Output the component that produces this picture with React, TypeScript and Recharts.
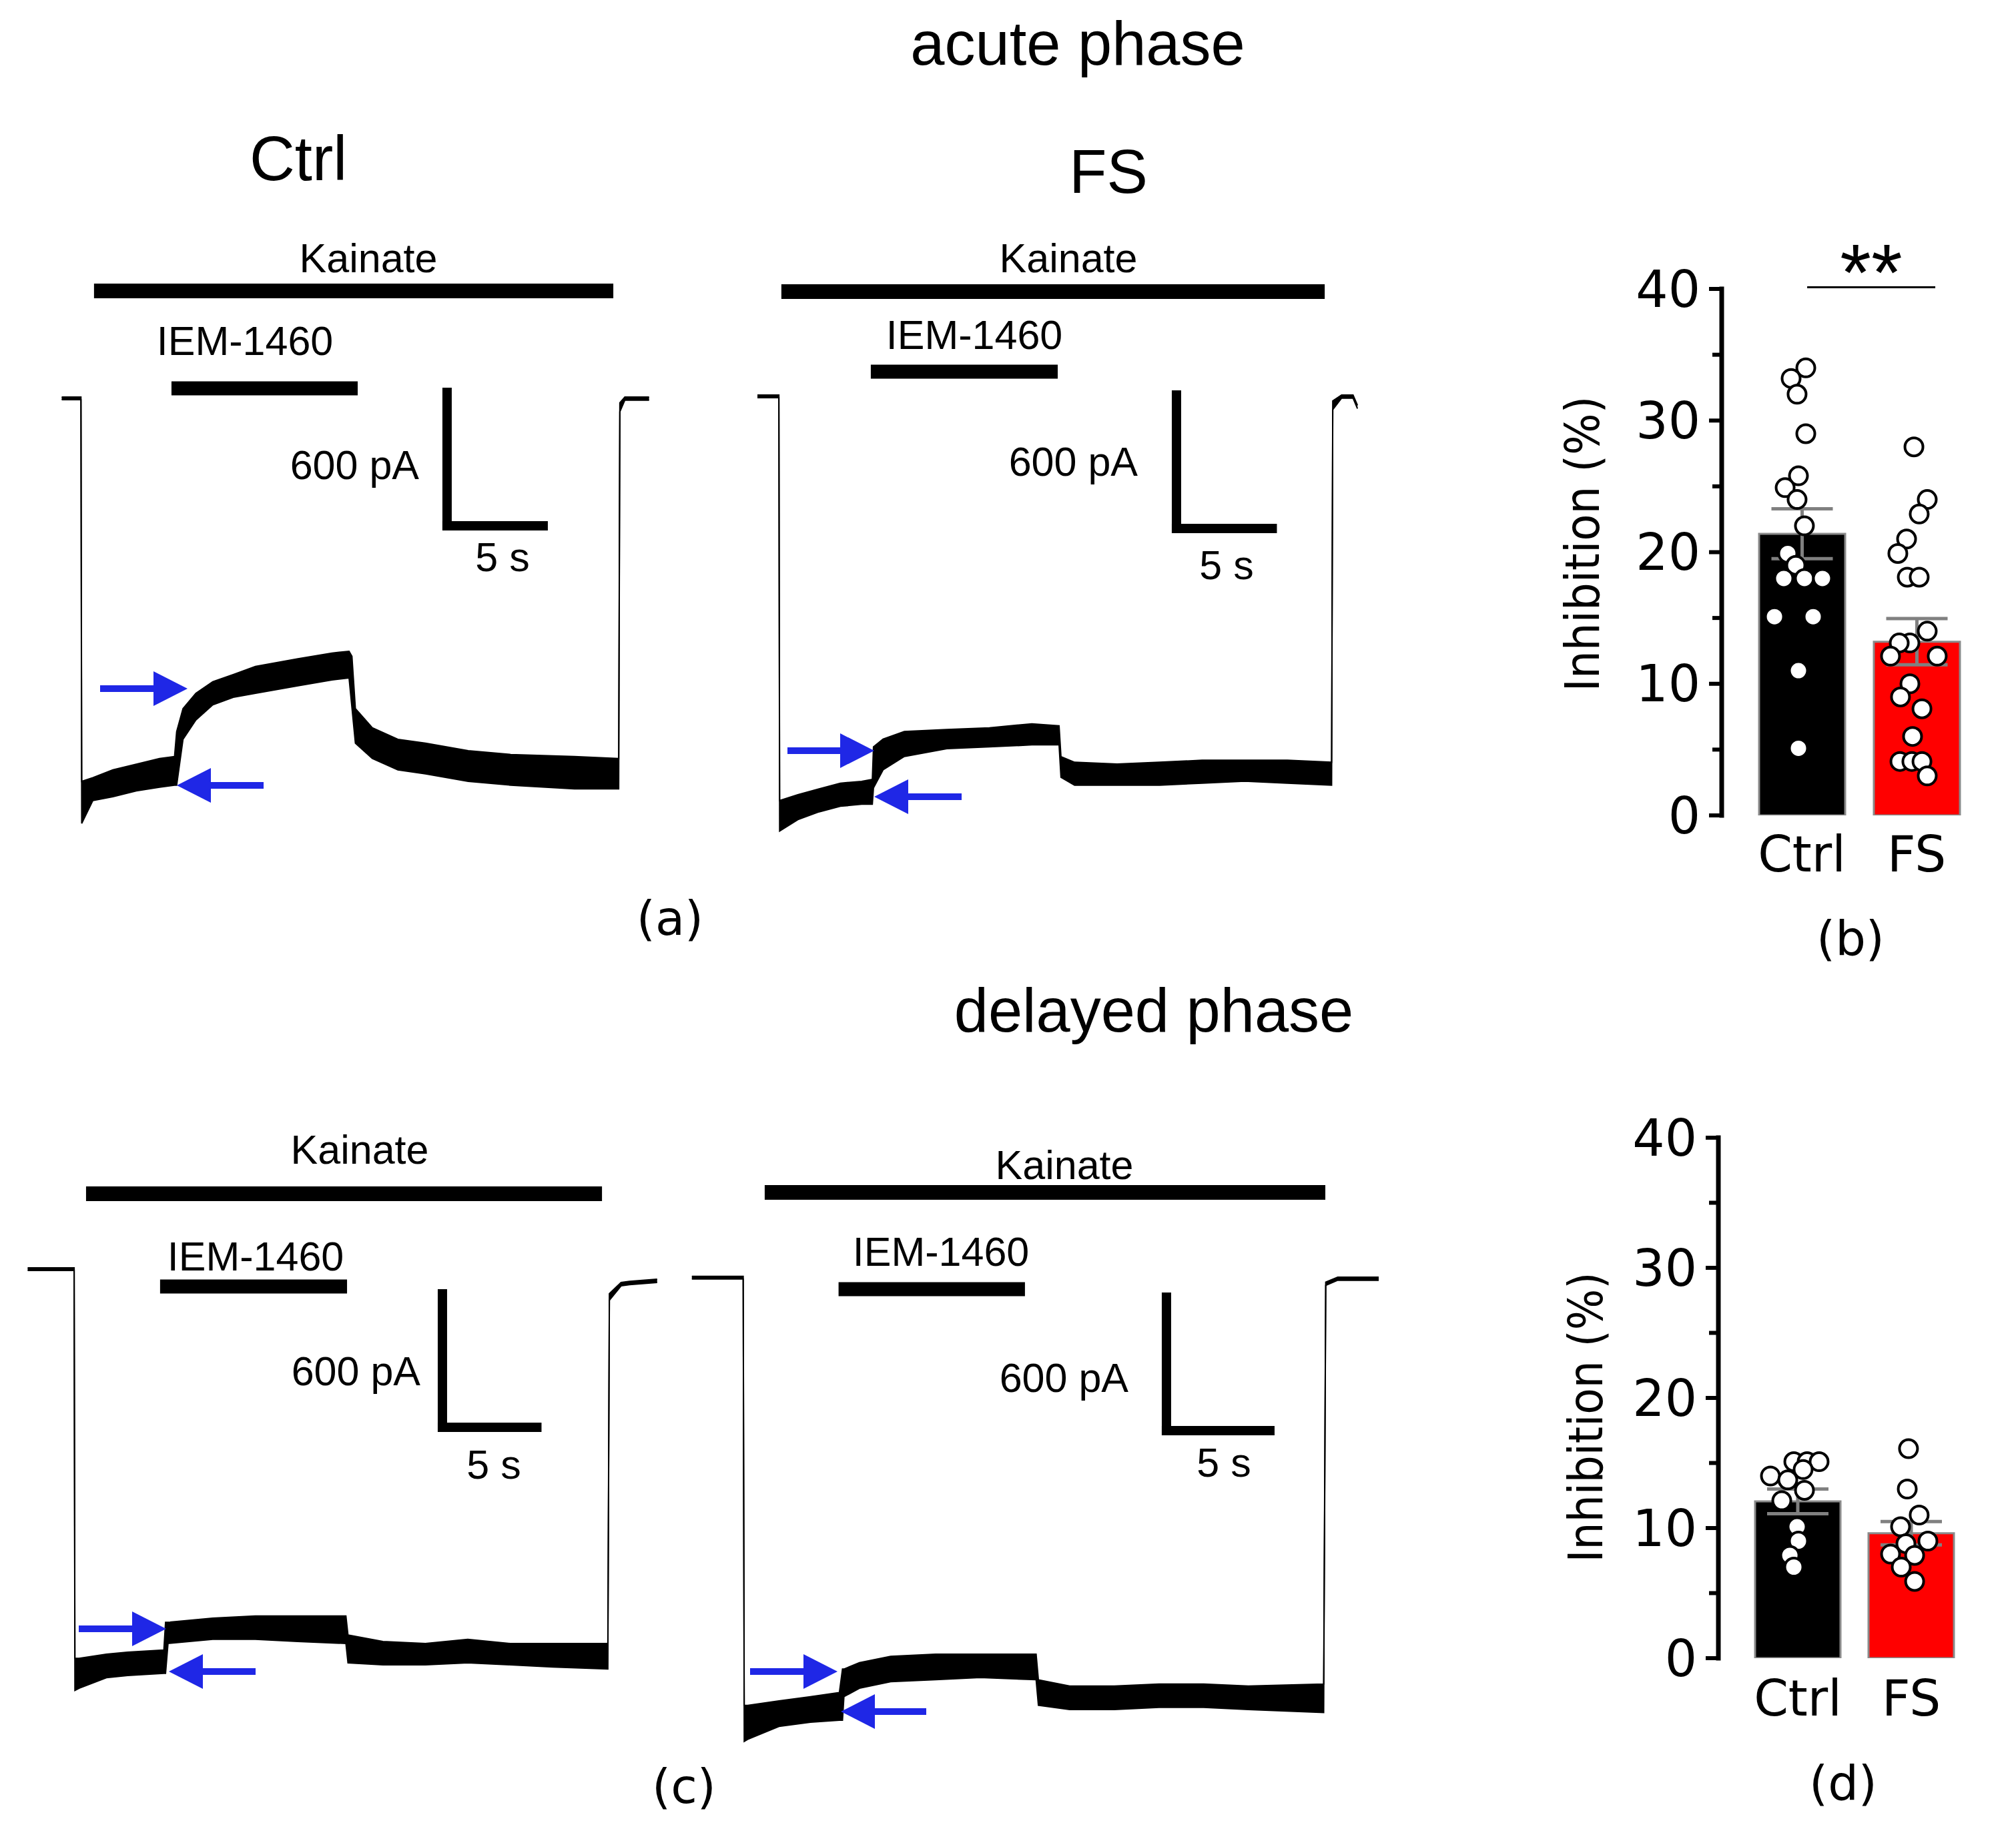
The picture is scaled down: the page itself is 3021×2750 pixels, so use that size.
import React from 'react';
import {
  ComposedChart,
  Area,
  Bar,
  Scatter,
  XAxis,
  YAxis,
  ReferenceLine,
  ErrorBar,
  Cell,
} from 'recharts';

const BLUE = '#1f27e6';
const SANS = "'Liberation Sans', Arial, sans-serif";
const ROUND = "'DejaVu Sans', sans-serif";
const NARROW = "'DejaVu Sans Condensed', 'Liberation Sans Narrow', 'DejaVu Sans', sans-serif";
const PA_PER_PX = 3;

// current traces: [time (s), lower edge of noise band (pA), upper edge (pA)]
const ACUTE_CTRL_TRACE = [
  [0, -6, 6], [1.0, -6, 6], [1.04, -1911, -1722], [1.62, -1808, -1705],
  [2.66, -1791, -1670], [3.88, -1765, -1645], [5.09, -1748, -1619], [5.87, -1739, -1610],
  [5.98, -1739, -1498], [6.31, -1533, -1395], [6.98, -1446, -1326], [7.86, -1378, -1274],
  [8.97, -1343, -1240], [10.08, -1326, -1205], [12.29, -1292, -1171], [14.06, -1266, -1145],
  [14.95, -1257, -1137], [15.1, -1390, -1160], [15.28, -1550, -1395], [16.16, -1619, -1481],
  [17.49, -1670, -1533], [18.93, -1688, -1550], [21.15, -1722, -1584], [23.36, -1739, -1601],
  [26.68, -1756, -1610], [28.98, -1756, -1619], [29.04, -60, -20], [29.3, -8, 6],
  [30.56, -8, 6],
];
const ACUTE_FS_TRACE = [
  [0, -6, 6], [1.12, -6, 6], [1.16, -1954, -1817], [2.11, -1903, -1791],
  [3.22, -1868, -1765], [4.33, -1843, -1739], [5.44, -1834, -1731], [6.0, -1834, -1722],
  [6.06, -1760, -1576], [6.56, -1679, -1541], [7.67, -1619, -1507], [9.89, -1584, -1498],
  [12.11, -1576, -1490], [14.33, -1567, -1472], [15.75, -1567, -1481], [15.85, -1713, -1620],
  [16.56, -1748, -1645], [18.78, -1748, -1653], [21.0, -1748, -1645], [23.22, -1739, -1636],
  [25.44, -1730, -1636], [27.67, -1739, -1636], [29.98, -1748, -1645], [30.04, -60, -20],
  [30.5, -8, 6], [31.1, -8, 6], [31.33, -55, -40],
];
const DELAYED_CTRL_TRACE = [
  [0, -6, 6], [2.46, -6, 6], [2.5, -1894, -1750], [2.72, -1884, -1750],
  [4.17, -1837, -1731], [5.29, -1827, -1722], [7.21, -1817, -1712], [7.3, -1817, -1588],
  [7.43, -1683, -1588], [9.8, -1664, -1569], [12.05, -1664, -1559], [14.3, -1674, -1559],
  [16.85, -1683, -1559], [16.96, -1770, -1645], [18.81, -1779, -1674], [21.06, -1779, -1683],
  [23.3, -1770, -1664], [25.56, -1779, -1683], [27.81, -1789, -1683], [30.72, -1798, -1683],
  [30.8, -140, -110], [31.42, -75, -60], [31.87, -70, -55], [33.33, -60, -45],
];
const DELAYED_FS_TRACE = [
  [0, -6, 6], [2.48, -6, 6], [2.53, -2085, -1923], [2.7, -2076, -1923],
  [4.21, -2018, -1903], [5.73, -1999, -1884], [7.13, -1990, -1865], [7.28, -1990, -1760],
  [7.35, -1884, -1760], [8.1, -1846, -1731], [9.61, -1817, -1703], [11.78, -1808, -1693],
  [13.94, -1798, -1693], [16.64, -1808, -1693], [16.75, -1923, -1808], [18.26, -1942, -1836],
  [20.42, -1942, -1836], [22.58, -1932, -1827], [24.74, -1932, -1827], [26.9, -1942, -1836],
  [30.54, -1955, -1827], [30.64, -35, -20], [31.22, -12, 2], [33.2, -12, 2],
];

// drug applications: [start s, end s]
const ACUTE_CTRL_KAINATE = [1.68, 28.7];
const ACUTE_CTRL_IEM = [5.71, 15.4];
const ACUTE_FS_KAINATE = [1.25, 29.62];
const ACUTE_FS_IEM = [5.92, 15.68];
const DELAYED_CTRL_KAINATE = [3.09, 30.41];
const DELAYED_CTRL_IEM = [7.01, 16.91];
const DELAYED_FS_KAINATE = [3.52, 30.62];
const DELAYED_FS_IEM = [7.09, 16.1];

// inhibition (%) summary
const GROUPS = ['Ctrl', 'FS'];
const ACUTE_MEAN = [21.4, 13.2];
const ACUTE_SEM = [1.9, 1.75];
const ACUTE_CTRL_PTS = [34.0, 33.2, 32.0, 29.0, 25.8, 24.9, 24.0, 22.0, 19.9, 19.0, 18.0, 18.0, 18.0, 15.1, 15.1, 11.0, 5.1];
const ACUTE_CTRL_JITTER = [0.035, -0.093, -0.041, 0.035, -0.029, -0.145, -0.041, 0.023, -0.122, -0.052, -0.157, 0.023, 0.18, -0.238, 0.099, -0.029, -0.029];
const ACUTE_FS_PTS = [28.0, 24.0, 22.9, 21.0, 19.9, 18.1, 18.1, 14.0, 13.1, 13.1, 12.1, 12.1, 10.0, 9.0, 8.1, 6.0, 4.1, 4.1, 4.1, 3.0];
const ACUTE_FS_JITTER = [-0.023, 0.093, 0.023, -0.087, -0.163, -0.081, 0.023, 0.093, -0.058, -0.151, -0.227, 0.18, -0.058, -0.14, 0.047, -0.035, -0.145, -0.041, 0.047, 0.093];
const DELAYED_MEAN = [12.05, 9.6];
const DELAYED_SEM = [0.95, 0.9];
const DELAYED_CTRL_PTS = [15.1, 15.1, 15.1, 14.5, 14.0, 13.7, 12.9, 12.1, 10.1, 9.0, 7.9, 7.0];
const DELAYED_CTRL_JITTER = [-0.035, 0.082, 0.188, 0.047, -0.241, -0.088, 0.059, -0.141, -0.006, 0.006, -0.07, -0.035];
const DELAYED_FS_PTS = [16.1, 13.0, 11.0, 10.1, 9.0, 8.8, 8.0, 7.9, 7.0, 5.9];
const DELAYED_FS_JITTER = [-0.024, -0.035, 0.07, -0.094, 0.147, -0.047, -0.182, 0.03, -0.088, 0.03];
const Y_TICKS = [0, 5, 10, 15, 20, 25, 30, 35, 40];

type TraceCfg = {
  trace: number[][];
  kainate: number[];
  iem: number[];
  left: number; top: number; width: number; height: number;
  x0: number; y0: number; pxPerS: number;
  kainateY: number; iemY: number; // pA level of the drug bars
  scale: number[]; // corner of the scale bar [s, pA]
  labels: { kainate: number[]; iem: number[]; pa: number[]; sec: number[] };
};

const TRACES: TraceCfg[] = [
  {
    trace: ACUTE_CTRL_TRACE, kainate: ACUTE_CTRL_KAINATE, iem: ACUTE_CTRL_IEM,
    left: 40, top: 330, width: 1000, height: 1040, x0: 92.5, y0: 597, pxPerS: 28.8,
    kainateY: 483, iemY: 45, scale: [20.05, -573],
    labels: { kainate: [552, 387], iem: [367, 511], pa: [628, 697], sec: [753, 835] },
  },
  {
    trace: ACUTE_FS_TRACE, kainate: ACUTE_FS_KAINATE, iem: ACUTE_FS_IEM,
    left: 1100, top: 330, width: 1000, height: 1040, x0: 1135, y0: 594, pxPerS: 28.7,
    kainateY: 471, iemY: 111, scale: [21.88, -594],
    labels: { kainate: [1601, 387], iem: [1460, 502], pa: [1705, 692], sec: [1838, 847] },
  },
  {
    trace: DELAYED_CTRL_TRACE, kainate: DELAYED_CTRL_KAINATE, iem: DELAYED_CTRL_IEM,
    left: 0, top: 1650, width: 1040, height: 1000, x0: 41.5, y0: 1902, pxPerS: 28.3,
    kainateY: 339, iemY: -78, scale: [21.96, -711],
    labels: { kainate: [539, 1723], iem: [383, 1883], pa: [630, 2055], sec: [740, 2195] },
  },
  {
    trace: DELAYED_FS_TRACE, kainate: DELAYED_FS_KAINATE, iem: DELAYED_FS_IEM,
    left: 1000, top: 1650, width: 1100, height: 1000, x0: 1036.8, y0: 1914.7, pxPerS: 31,
    kainateY: 383, iemY: -52, scale: [22.94, -688],
    labels: { kainate: [1595, 1746], iem: [1410, 1876], pa: [1691, 2065], sec: [1834, 2192] },
  },
];

// blue arrows: [tail x, tip x, y]
const ARROWS = [
  [150, 281, 1032], [395, 265, 1177],
  [1180, 1310, 1125], [1441, 1310, 1194],
  [118, 249, 2441], [383, 253, 2505],
  [1124, 1255, 2505], [1388, 1260, 2565],
];

function TracePanel({ cfg }: { cfg: TraceCfg }) {
  const { left, top, width, height, x0, y0, pxPerS } = cfg;
  const xDomain = [(left - x0) / pxPerS, (left + width - x0) / pxPerS];
  const yDomain = [(y0 - (top + height)) * PA_PER_PX, (y0 - top) * PA_PER_PX];
  const rows = cfg.trace.map(([t, lo, hi]) => ({ t, band: [lo, hi] }));
  const [sc, sp] = cfg.scale;
  return (
    <div style={{ position: 'absolute', left, top, width, height }}>
      <ComposedChart width={width} height={height} data={rows} margin={{ top: 0, right: 0, bottom: 0, left: 0 }}>
        <XAxis dataKey="t" type="number" domain={xDomain} allowDataOverflow hide />
        <YAxis type="number" domain={yDomain} allowDataOverflow hide />
        <Area
          type="linear"
          dataKey="band"
          stroke="#000"
          strokeWidth={2}
          fill="#000"
          fillOpacity={1}
          dot={false}
          activeDot={false}
          isAnimationActive={false}
        />
        <ReferenceLine
          segment={[{ x: cfg.kainate[0], y: cfg.kainateY }, { x: cfg.kainate[1], y: cfg.kainateY }]}
          stroke="#000" strokeWidth={22} ifOverflow="visible"
        />
        <ReferenceLine
          segment={[{ x: cfg.iem[0], y: cfg.iemY }, { x: cfg.iem[1], y: cfg.iemY }]}
          stroke="#000" strokeWidth={21} ifOverflow="visible"
        />
        {/* 600 pA / 5 s scale bar */}
        <ReferenceLine
          segment={[{ x: sc, y: sp }, { x: sc, y: sp + 600 }]}
          stroke="#000" strokeWidth={14} strokeLinecap="square" ifOverflow="visible"
        />
        <ReferenceLine
          segment={[{ x: sc, y: sp }, { x: sc + 5, y: sp }]}
          stroke="#000" strokeWidth={14} strokeLinecap="square" ifOverflow="visible"
        />
      </ComposedChart>
    </div>
  );
}

type BarCfg = {
  mean: number[]; sem: number[];
  pts: number[][]; jitter: number[][];
  left: number; top: number; width: number; height: number;
  axisX: number; yTop: number; yZero: number; pad: number; band: number; barSize: number;
  catDy: number; sig: boolean;
};

const BAR_PANELS: BarCfg[] = [
  {
    mean: ACUTE_MEAN, sem: ACUTE_SEM,
    pts: [ACUTE_CTRL_PTS, ACUTE_FS_PTS], jitter: [ACUTE_CTRL_JITTER, ACUTE_FS_JITTER],
    left: 2330, top: 330, width: 691, height: 1045,
    axisX: 2580, yTop: 433, yZero: 1222, pad: 34, band: 172, barSize: 129, catDy: 58, sig: true,
  },
  {
    mean: DELAYED_MEAN, sem: DELAYED_SEM,
    pts: [DELAYED_CTRL_PTS, DELAYED_FS_PTS], jitter: [DELAYED_CTRL_JITTER, DELAYED_FS_JITTER],
    left: 2330, top: 1600, width: 691, height: 1040,
    axisX: 2575, yTop: 1705, yZero: 2485, pad: 34, band: 170, barSize: 128, catDy: 60, sig: false,
  },
];

const YTick = (props: any) => {
  const { x, y, payload } = props;
  const major = payload.value % 10 === 0;
  return (
    <g>
      <line x1={x - (major ? 19 : 14)} x2={x} y1={y} y2={y} stroke="#000" strokeWidth={6} />
      {major && (
        <text x={x - 32} y={y} textAnchor="end" dominantBaseline="central" fontFamily={ROUND} fontSize={76} fill="#000">
          {payload.value}
        </text>
      )}
    </g>
  );
};

function InhibitionPanel({ cfg }: { cfg: BarCfg }) {
  const { left, top, width, height, axisX, yTop, yZero, pad, band } = cfg;
  const plotRight = axisX + pad + 2 * band;
  const margin = { top: yTop - top, left: 0, right: left + width - plotRight, bottom: 0 };
  const xAxisHeight = height - (yZero - top);
  const rows = GROUPS.map((name, i) => ({ name, mean: cfg.mean[i], sem: cfg.sem[i] }));
  const dots = cfg.pts.map((vals, g) => vals.map((v, i) => ({ x: g + 0.5 + cfg.jitter[g][i], y: v })));
  const CatTick = (p: any) => (
    <text x={p.x} y={p.y + cfg.catDy} textAnchor="middle" dominantBaseline="central" fontFamily={ROUND} fontSize={74} fill="#000">
      {p.payload.value}
    </text>
  );
  const dot = (p: any) => <circle cx={p.cx} cy={p.cy} r={13.5} fill="#fff" stroke="#000" strokeWidth={4} />;
  return (
    <div style={{ position: 'absolute', left, top, width, height }}>
      <ComposedChart width={width} height={height} data={rows} margin={margin}>
        <XAxis
          xAxisId="cat" dataKey="name" type="category" padding={{ left: pad, right: 0 }}
          height={xAxisHeight} axisLine={false} tickLine={false} tickSize={0} tickMargin={0}
          tick={CatTick} interval={0}
        />
        <XAxis xAxisId="num" dataKey="x" type="number" domain={[0, 2]} allowDataOverflow hide padding={{ left: pad, right: 0 }} />
        <YAxis
          type="number" domain={[0, 40]} ticks={Y_TICKS} interval={0} allowDataOverflow
          width={axisX - left} tickSize={0} tickMargin={0} tickLine={false}
          axisLine={{ stroke: '#000', strokeWidth: 7, strokeLinecap: 'square' }}
          tick={YTick}
        />
        <Bar xAxisId="cat" dataKey="mean" barSize={cfg.barSize} stroke="#8a8a8a" strokeWidth={3} isAnimationActive={false}>
          {rows.map((r) => (
            <Cell key={r.name} fill={r.name === 'Ctrl' ? '#000' : '#ff0000'} />
          ))}
          <ErrorBar dataKey="sem" width={46} strokeWidth={5} stroke="#808080" />
        </Bar>
        {dots.map((d, g) => (
          <Scatter key={GROUPS[g]} xAxisId="num" data={d} dataKey="y" shape={dot} isAnimationActive={false} />
        ))}
        {cfg.sig && (
          <ReferenceLine
            xAxisId="num"
            segment={[{ x: 0.547, y: 40.13 }, { x: 1.663, y: 40.13 }]}
            stroke="#000" strokeWidth={3} ifOverflow="visible"
          />
        )}
      </ComposedChart>
    </div>
  );
}

function Txt({ x, y, size, children, anchor = 'middle', family = SANS }: any) {
  return (
    <text x={x} y={y} fontSize={size} fontFamily={family} textAnchor={anchor} dominantBaseline="central" fill="#000">
      {children}
    </text>
  );
}

export default function App() {
  return (
    <div style={{ position: 'absolute', left: 0, top: 0, width: 3021, height: 2750, background: '#fff', overflow: 'hidden' }}>
      {TRACES.map((cfg, i) => (
        <TracePanel key={i} cfg={cfg} />
      ))}
      {BAR_PANELS.map((cfg, i) => (
        <InhibitionPanel key={i} cfg={cfg} />
      ))}
      <svg width={3021} height={2750} style={{ position: 'absolute', left: 0, top: 0, pointerEvents: 'none' }}>
        <Txt x={1615} y={65} size={92}>acute phase</Txt>
        <Txt x={447} y={237} size={94}>Ctrl</Txt>
        <Txt x={1661} y={257} size={92}>FS</Txt>
        <Txt x={1729} y={1514} size={92}>delayed phase</Txt>

        {TRACES.map((c, i) => (
          <g key={i}>
            <Txt x={c.labels.kainate[0]} y={c.labels.kainate[1]} size={61}>Kainate</Txt>
            <Txt x={c.labels.iem[0]} y={c.labels.iem[1]} size={61}>IEM-1460</Txt>
            <Txt x={c.labels.pa[0]} y={c.labels.pa[1]} size={61} anchor="end">600 pA</Txt>
            <Txt x={c.labels.sec[0]} y={c.labels.sec[1]} size={61}>5 s</Txt>
          </g>
        ))}

        {ARROWS.map(([tail, tip, y], i) => {
          const base = tip - Math.sign(tip - tail) * 51;
          return (
            <g key={i}>
              <line x1={tail} x2={base} y1={y} y2={y} stroke={BLUE} strokeWidth={10} />
              <polygon points={`${base},${y - 26} ${tip},${y} ${base},${y + 26}`} fill={BLUE} />
            </g>
          );
        })}

        <text
          x={2371} y={815} transform="rotate(-90 2371 815)" textAnchor="middle" dominantBaseline="central"
          fontFamily={NARROW} fontSize={72} textLength={443} lengthAdjust="spacingAndGlyphs" fill="#000"
        >
          Inhibition (%)
        </text>
        <text
          x={2376} y={2124} transform="rotate(-90 2376 2124)" textAnchor="middle" dominantBaseline="central"
          fontFamily={NARROW} fontSize={72} textLength={435} lengthAdjust="spacingAndGlyphs" fill="#000"
        >
          Inhibition (%)
        </text>
        <text x={2804} y={450} textAnchor="middle" fontFamily={SANS} fontSize={120} fill="#000">**</text>

        <Txt x={1004} y={1376} size={72} family={ROUND}>(a)</Txt>
        <Txt x={2773} y={1406} size={72} family={ROUND}>(b)</Txt>
        <Txt x={1025} y={2677} size={72} family={ROUND}>(c)</Txt>
        <Txt x={2762} y={2672} size={72} family={ROUND}>(d)</Txt>
      </svg>
    </div>
  );
}
